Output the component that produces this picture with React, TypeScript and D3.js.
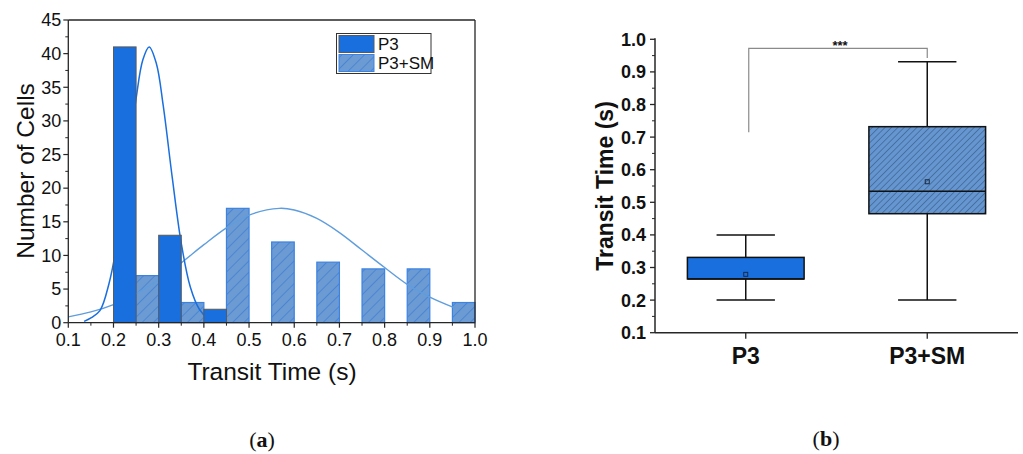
import React from 'react';
import * as d3 from 'd3';

// histogram (a)
const binWidth = 0.05;
const p3Bins = [0.2, 0.3, 0.4];
const p3Counts = [41, 13, 2];
const smBins = [0.25, 0.35, 0.45, 0.55, 0.65, 0.75, 0.85, 0.95];
const smCounts = [7, 3, 17, 12, 9, 8, 8, 3];

// fitted distribution curves
const p3FitX = [0.135, 0.15, 0.17, 0.19, 0.21, 0.23, 0.25, 0.265, 0.279, 0.295, 0.31, 0.33, 0.35, 0.37, 0.39, 0.41, 0.43];
const p3FitY = [0.2, 0.7, 1.8, 5.8, 12.7, 22.7, 33.3, 39.1, 41, 38.5, 32.3, 21.6, 11.8, 5.3, 2.0, 0.6, 0.15];
const smFitX = [0.1, 0.15, 0.2, 0.25, 0.3, 0.35, 0.4, 0.45, 0.5, 0.567, 0.6, 0.65, 0.7, 0.75, 0.8, 0.85, 0.9, 0.955];
const smFitY = [0.87, 1.6, 2.7, 4.3, 6.4, 8.9, 11.6, 14.1, 16.0, 17, 16.75, 15.5, 13.4, 10.8, 8.2, 5.7, 3.8, 2.2];

const histXTicks = [0.1, 0.2, 0.3, 0.4, 0.5, 0.6, 0.7, 0.8, 0.9, 1.0];
const histYTicks = [0, 5, 10, 15, 20, 25, 30, 35, 40, 45];
const legendLabels = ['P3', 'P3+SM'];

// box plot (b)
const groups = ['P3', 'P3+SM'];
const whiskerLow = [0.2, 0.2];
const q1 = [0.265, 0.465];
const median = [0.265, 0.534];
const q3 = [0.331, 0.732];
const whiskerHigh = [0.4, 0.931];
const means = [0.279, 0.563];
const boxYTicks = [0.1, 0.2, 0.3, 0.4, 0.5, 0.6, 0.7, 0.8, 0.9, 1.0];
const sigBracket = [0.715, 0.972, 0.943]; // left leg end, top, right leg end
const sigLabel = '***';

const BLUE = '#1a6fdf';
const SANS = '"Liberation Sans", Arial, sans-serif';
const AXIS = '#262626';

export default function App() {
  // ---- left chart scales
  const x = d3.scaleLinear().domain([0.1, 1.0]).range([68.3, 475]);
  const y = d3.scaleLinear().domain([0, 45]).range([322.7, 20]);
  const xMinor = d3.range(0.15, 1.0, 0.1);
  const yMinor = d3.range(2.5, 45, 5);

  const line = d3.line<[number, number]>()
    .x(d => x(d[0]))
    .y(d => y(d[1]))
    .curve(d3.curveCatmullRom);
  const p3Path = line(p3FitX.map((v, i) => [v, p3FitY[i]]));
  const smPath = line(smFitX.map((v, i) => [v, smFitY[i]]));

  // ---- right chart scales
  const bx = d3.scalePoint().domain(groups).range([655, 1018]).padding(0.5);
  const by = d3.scaleLinear().domain([0.1, 1.0]).range([332.7, 39.3]);
  const boxW = bx.step() * 0.643;
  const capW = boxW / 2;
  const byMinor = d3.range(0.15, 1.0, 0.1);

  const fmt = d3.format('.1f');

  return (
    <svg width={1023} height={454} style={{ position: 'absolute', left: 0, top: 0, background: '#fff' }}>
      <defs>
        <pattern id="hatchBar" patternUnits="userSpaceOnUse" width={8} height={8} patternTransform="rotate(45)">
          <rect width={8} height={8} fill="#6c9bd3" />
          <line x1={0} y1={0} x2={0} y2={8} stroke="#2f73d2" strokeWidth={1.1} />
        </pattern>
        <pattern id="hatchBox" patternUnits="userSpaceOnUse" width={4.5} height={4.5} patternTransform="rotate(45)">
          <rect width={4.5} height={4.5} fill="#6596cf" />
          <line x1={0} y1={0} x2={0} y2={4.5} stroke="#27476f" strokeWidth={0.9} />
        </pattern>
      </defs>

      {/* ================= (a) histogram ================= */}
      <g>
        {smBins.map((b, i) => (
          <rect key={'sm' + i} x={x(b)} y={y(smCounts[i])} width={x(b + binWidth) - x(b)}
            height={y(0) - y(smCounts[i])} fill="url(#hatchBar)" stroke="#3a82e4" strokeWidth={1.2} />
        ))}
        <path d={smPath || ''} fill="none" stroke="#5f9ddd" strokeWidth={1.4} />
        <path d={p3Path || ''} fill="none" stroke={BLUE} strokeWidth={1.5} />
        {p3Bins.map((b, i) => (
          <rect key={'p3' + i} x={x(b)} y={y(p3Counts[i])} width={x(b + binWidth) - x(b)}
            height={y(0) - y(p3Counts[i])} fill={BLUE} stroke="#5a5a5a" strokeWidth={1} />
        ))}

        {/* frame */}
        <line x1={x(1.0)} x2={x(1.0)} y1={y(45)} y2={y(0)} stroke={AXIS} strokeWidth={1.3} />
        <line x1={x(0.1)} x2={x(1.0)} y1={y(45)} y2={y(45)} stroke={AXIS} strokeWidth={1.3} />
        <line x1={x(0.1)} x2={x(0.1)} y1={y(45)} y2={y(0)} stroke={AXIS} strokeWidth={1.3} />
        <line x1={x(0.1)} x2={x(1.0)} y1={y(0)} y2={y(0)} stroke={AXIS} strokeWidth={1.3} />

        {histYTicks.map(t => (
          <g key={'hy' + t}>
            <line x1={x(0.1) - 5} x2={x(0.1)} y1={y(t)} y2={y(t)} stroke={AXIS} strokeWidth={1.2} />
            <text x={x(0.1) - 7} y={y(t)} dy="0.35em" textAnchor="end" fontFamily={SANS} fontSize={18} fill="#111">{t}</text>
          </g>
        ))}
        {yMinor.map(t => (
          <line key={'hym' + t} x1={x(0.1) - 3} x2={x(0.1)} y1={y(t)} y2={y(t)} stroke={AXIS} strokeWidth={1} />
        ))}
        {histXTicks.map(t => (
          <g key={'hx' + t}>
            <line x1={x(t)} x2={x(t)} y1={y(0)} y2={y(0) + 5} stroke={AXIS} strokeWidth={1.2} />
            <text x={x(t)} y={346} textAnchor="middle" fontFamily={SANS} fontSize={18} fill="#111">{fmt(t)}</text>
          </g>
        ))}
        {xMinor.map(t => (
          <line key={'hxm' + t} x1={x(t)} x2={x(t)} y1={y(0)} y2={y(0) + 3} stroke={AXIS} strokeWidth={1} />
        ))}

        <text x={272} y={380} textAnchor="middle" fontFamily={SANS} fontSize={24.5} fill="#111">Transit Time (s)</text>
        <text transform="translate(34,171) rotate(-90)" textAnchor="middle" fontFamily={SANS} fontSize={24.5} fill="#111">Number of Cells</text>

        {/* legend */}
        <rect x={336.5} y={33.5} width={94.5} height={40} fill="#fff" stroke="#333" strokeWidth={1} />
        <rect x={339} y={35.5} width={35} height={17} fill={BLUE} stroke="#5a5a5a" strokeWidth={1} />
        <rect x={339} y={54.5} width={35} height={17} fill="url(#hatchBar)" stroke="#3a82e4" strokeWidth={1} />
        <text x={378} y={50} fontFamily={SANS} fontSize={17} fill="#111">{legendLabels[0]}</text>
        <text x={378} y={69} fontFamily={SANS} fontSize={17} fill="#111">{legendLabels[1]}</text>

        <text x={262} y={447} textAnchor="middle" fontFamily='"Liberation Serif", "DejaVu Serif", serif' fontSize={22} fill="#111">
          (<tspan fontWeight="bold">a</tspan>)
        </text>
      </g>

      {/* ================= (b) box plot ================= */}
      <g>
        {groups.map((g, i) => {
          const cx = bx(g) as number;
          return (
            <g key={'box' + g}>
              <line x1={cx} x2={cx} y1={by(whiskerLow[i])} y2={by(q1[i])} stroke="#111" strokeWidth={1.5} />
              <line x1={cx} x2={cx} y1={by(q3[i])} y2={by(whiskerHigh[i])} stroke="#111" strokeWidth={1.5} />
              <line x1={cx - capW / 2} x2={cx + capW / 2} y1={by(whiskerLow[i])} y2={by(whiskerLow[i])} stroke="#111" strokeWidth={1.5} />
              <line x1={cx - capW / 2} x2={cx + capW / 2} y1={by(whiskerHigh[i])} y2={by(whiskerHigh[i])} stroke="#111" strokeWidth={1.5} />
              <rect x={cx - boxW / 2} y={by(q3[i])} width={boxW} height={by(q1[i]) - by(q3[i])}
                fill={i === 0 ? BLUE : 'url(#hatchBox)'} stroke="#111" strokeWidth={1.5} />
              <line x1={cx - boxW / 2} x2={cx + boxW / 2} y1={by(median[i])} y2={by(median[i])} stroke="#111" strokeWidth={1.5} />
              <rect x={cx - 2} y={by(means[i]) - 2} width={4} height={4} fill="none" stroke="#1b2a44" strokeWidth={1} />
            </g>
          );
        })}

        {/* significance bracket */}
        <path
          d={`M${(bx('P3') as number) + 3},${by(sigBracket[0])}V${by(sigBracket[1])}H${bx('P3+SM') as number}V${by(sigBracket[2])}`}
          fill="none" stroke="#8a8a8a" strokeWidth={1.2} />
        <text x={840} y={50} textAnchor="middle" fontFamily={SANS} fontWeight="bold" fontSize={13} fill="#111">{sigLabel}</text>

        {/* axes */}
        <line x1={655} x2={655} y1={by(1.0) - 1} y2={by(0.1)} stroke={AXIS} strokeWidth={1.5} />
        <line x1={655} x2={1018} y1={by(0.1)} y2={by(0.1)} stroke={AXIS} strokeWidth={1.5} />
        {boxYTicks.map(t => (
          <g key={'by' + t}>
            <line x1={650} x2={655} y1={by(t)} y2={by(t)} stroke={AXIS} strokeWidth={1.3} />
            <text x={646} y={by(t)} dy="0.36em" textAnchor="end" fontFamily={SANS} fontWeight="bold" fontSize={18} fill="#111">{fmt(t)}</text>
          </g>
        ))}
        {byMinor.map(t => (
          <line key={'bym' + t} x1={652} x2={655} y1={by(t)} y2={by(t)} stroke={AXIS} strokeWidth={1} />
        ))}
        {groups.map(g => (
          <g key={'bx' + g}>
            <line x1={bx(g) as number} x2={bx(g) as number} y1={by(0.1)} y2={by(0.1) + 6} stroke={AXIS} strokeWidth={1.3} />
            <text x={bx(g) as number} y={364} textAnchor="middle" fontFamily={SANS} fontWeight="bold" fontSize={23} fill="#111">{g}</text>
          </g>
        ))}
        <text transform="translate(613,186) rotate(-90)" textAnchor="middle" fontFamily={SANS} fontWeight="bold" fontSize={23} fill="#111">Transit Time (s)</text>

        <text x={826} y={446} textAnchor="middle" fontFamily='"Liberation Serif", "DejaVu Serif", serif' fontSize={22} fill="#111">
          (<tspan fontWeight="bold">b</tspan>)
        </text>
      </g>
    </svg>
  );
}
